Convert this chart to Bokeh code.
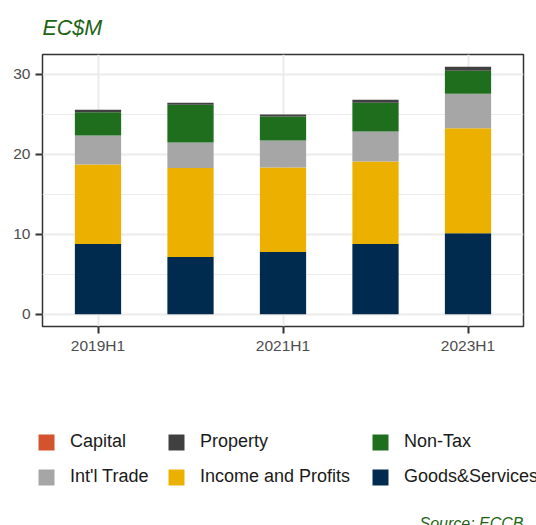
from bokeh.plotting import figure
from bokeh.layouts import column
from bokeh.models import (ColumnDataSource, Range1d, FixedTicker, Legend, LegendItem,
                          Label)
from bokeh.embed import file_html
from bokeh.resources import INLINE

# ---- data ----
periods = ["2019H1", "2020H1", "2021H1", "2022H1", "2023H1"]
goods_services = [8.76, 7.14, 7.76, 8.76, 10.12]
income_profits = [9.95, 11.12, 10.58, 10.33, 13.12]
intl_trade = [3.61, 3.19, 3.36, 3.73, 4.31]
non_tax = [2.91, 4.73, 2.99, 3.61, 2.86]
property_tax = [0.33, 0.25, 0.25, 0.37, 0.50]
capital = [0.0, 0.0, 0.0, 0.0, 0.0]

series_keys = ["goods", "income", "trade", "nontax", "property", "capital"]
series_labels = ["Goods&Services", "Income and Profits", "Int'l Trade", "Non-Tax",
                 "Property", "Capital"]
series_colors = ["#002a4e", "#ecb100", "#a6a6a6", "#1e6e1e", "#404040", "#d4532f"]
tick_labels = ["2019H1", "2021H1", "2023H1"]
# legend columns as shown (top row, bottom row)
legend_cols = [["Capital", "Int'l Trade"],
               ["Property", "Income and Profits"],
               ["Non-Tax", "Goods&Services"]]

x = list(range(len(periods)))
src = ColumnDataSource(dict(x=x, goods=goods_services, income=income_profits,
                            trade=intl_trade, nontax=non_tax, property=property_tax,
                            capital=capital))

totals = [sum(v) for v in zip(goods_services, income_profits, intl_trade, non_tax,
                              property_tax, capital)]
top = max(totals)
pad = 0.05 * top

# ---------- subtitle strip ----------
pt = figure(output_backend="svg", toolbar_location=None,
            frame_width=536, frame_height=40, min_border=0,
            x_range=Range1d(0, 536), y_range=Range1d(0, 40),
            x_axis_type=None, y_axis_type=None)
pt.outline_line_color = None
pt.grid.visible = False
pt.add_layout(Label(x=0, y=13, text="EC$M", text_align="left",
                    text_baseline="alphabetic", text_font="Liberation Sans",
                    text_font_style="italic", text_font_size="21.5px",
                    text_color="#1e6414"))

# ---------- main chart ----------
pa = figure(output_backend="svg", toolbar_location=None,
            frame_width=481, frame_height=272,
            min_border_left=42, min_border_right=13, min_border_top=14,
            min_border_bottom=34,
            x_range=Range1d(-0.6, len(periods) - 0.4),
            y_range=Range1d(-pad, top + pad))

pa.vbar_stack(series_keys, x="x", width=0.5, color=series_colors,
              source=src, line_color=None)

pa.background_fill_color = "white"
pa.border_fill_color = "white"
pa.outline_line_color = "#333333"
pa.outline_line_width = 1.5

tick_pos = [periods.index(t) for t in tick_labels]
pa.xaxis.ticker = FixedTicker(ticks=tick_pos)
pa.xaxis.major_label_overrides = {periods.index(t): t for t in tick_labels}
pa.yaxis.ticker = FixedTicker(ticks=[0, 10, 20, 30], minor_ticks=[5, 15, 25])
for ax in (pa.xaxis[0], pa.yaxis[0]):
    ax.axis_line_color = None
    ax.major_tick_in = 0
    ax.major_tick_out = 7
    ax.major_tick_line_color = "#333333"
    ax.major_tick_line_width = 2
    ax.minor_tick_line_color = None
    ax.major_label_text_color = "#4d4d4d"
    ax.major_label_text_font = "Liberation Sans"
    ax.major_label_text_font_size = "15.5px"
pa.xaxis.major_label_standoff = 3
pa.yaxis.major_label_standoff = 5

pa.xgrid.grid_line_color = "#ebebeb"
pa.xgrid.grid_line_width = 2
pa.ygrid.grid_line_color = "#ebebeb"
pa.ygrid.grid_line_width = 2
pa.ygrid.minor_grid_line_color = "#ebebeb"
pa.ygrid.minor_grid_line_width = 1.2

# ---------- legend + caption strip ----------
pb = figure(output_backend="svg", toolbar_location=None,
            frame_width=536, frame_height=165, min_border=0,
            x_range=Range1d(0, 536), y_range=Range1d(0, 165),
            x_axis_type=None, y_axis_type=None)
pb.outline_line_color = None
pb.grid.visible = False
pb.border_fill_color = "white"

# legend-only swatch renderers, placed outside the visible range
off = ColumnDataSource(dict(x=[pb.x_range.start - 1000], top=[0]))
swatch = {}
for lab, col in zip(series_labels, series_colors):
    swatch[lab] = pb.vbar(x="x", top="top", width=1, source=off, fill_color=col,
                          line_color=None)

col_left = [36, 166, 370]
for left, labs in zip(col_left, legend_cols):
    lg = Legend(items=[LegendItem(label=l, renderers=[swatch[l]]) for l in labs],
                location=(left, 38), orientation="vertical",
                glyph_width=20, glyph_height=20, label_standoff=14, spacing=14,
                label_height=20, padding=0, margin=0, border_line_color=None,
                background_fill_alpha=0,
                label_text_font="Liberation Sans", label_text_font_size="18px",
                label_text_color="#1a1a1a", label_text_baseline="middle")
    pb.add_layout(lg, "center")

pb.add_layout(Label(x=481, y=2, text="Source: ECCB", text_align="right",
                    text_baseline="alphabetic", text_font="Liberation Sans",
                    text_font_style="italic", text_font_size="16px",
                    text_color="#1e6414"))

p = column(pt, pa, pb, spacing=0)

html = file_html(p, INLINE)
html = html.replace("</head>", "<style>html,body{overflow:hidden;}</style></head>", 1)
open("out.html", "w").write(html)
